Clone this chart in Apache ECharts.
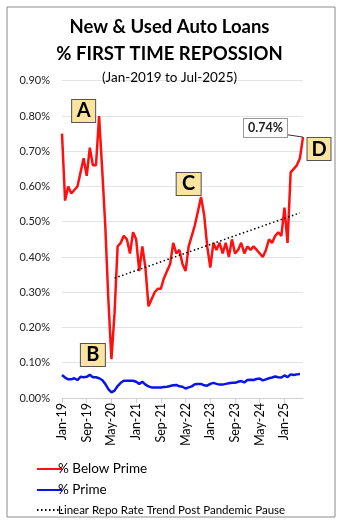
<!DOCTYPE html>
<html>
<head>
<meta charset="utf-8">
<script src="https://cdn.jsdelivr.net/npm/echarts@6/dist/echarts.min.js"></script>
<style>
html,body{margin:0;padding:0;background:#fff;}
#chart{width:339px;height:522px;}
</style>
</head>
<body>
<div id="chart"></div>
<script>
const months = ['Jan','Feb','Mar','Apr','May','Jun','Jul','Aug','Sep','Oct','Nov','Dec'];
const categories = [];
for (let y = 19; y <= 25; y++) {
  for (let m = 0; m < 12; m++) {
    if (y === 25 && m > 6) break;
    categories.push(months[m] + '-' + y);
  }
}
const belowPrime = [0.75,0.56,0.60,0.58,0.59,0.60,0.64,0.68,0.63,0.71,0.66,0.66,
  0.80,0.65,0.49,0.28,0.11,0.24,0.43,0.44,0.46,0.45,0.41,0.47,
  0.45,0.36,0.43,0.37,0.26,0.28,0.30,0.31,0.31,0.34,0.36,0.38,
  0.44,0.41,0.42,0.38,0.36,0.43,0.46,0.49,0.53,0.57,0.52,0.43,
  0.37,0.44,0.42,0.44,0.41,0.44,0.40,0.45,0.41,0.42,0.44,0.41,
  0.43,0.42,0.43,0.42,0.41,0.40,0.42,0.45,0.44,0.46,0.47,0.46,
  0.54,0.44,0.64,0.65,0.66,0.68,0.74];
const prime = [0.065,0.058,0.053,0.053,0.056,0.051,0.060,0.059,0.060,0.066,0.059,0.059,
  0.056,0.051,0.040,0.025,0.016,0.021,0.034,0.043,0.049,0.049,0.049,0.049,
  0.046,0.040,0.046,0.038,0.033,0.030,0.030,0.030,0.030,0.031,0.032,0.034,
  0.036,0.037,0.033,0.032,0.027,0.030,0.033,0.039,0.040,0.040,0.036,0.035,
  0.040,0.043,0.040,0.038,0.038,0.040,0.042,0.043,0.043,0.046,0.048,0.044,
  0.051,0.052,0.051,0.054,0.055,0.050,0.053,0.056,0.058,0.061,0.059,0.058,
  0.064,0.059,0.067,0.065,0.067,0.068,null];
// trend line: start and end points
const trendStart = {index: 17, value: 0.34};
const trendEnd = {index: 77, value: 0.525};
const yTicks = [0,0.1,0.2,0.3,0.4,0.5,0.6,0.7,0.8,0.9];

const trend = categories.map(() => null);
trend[trendStart.index] = trendStart.value;
trend[trendEnd.index] = trendEnd.value;

const FONT = 'Lato';
const boxStyle = {color:'#FBE3A0', borderColor:'#555', borderWidth:1};
const boxLabel = {show:true, position:'inside', formatter:'{b}', color:'#000', fontSize:20, fontWeight:'bold', fontFamily:FONT};

const chart = echarts.init(document.getElementById('chart'));
const last = belowPrime.length - 1;
chart.setOption({
  animation:false,
  textStyle:{fontFamily:FONT},
  title:{
    text:'New & Used Auto Loans\n% FIRST TIME REPOSSION',
    subtext:'(Jan-2019 to Jul-2025)',
    left:'center', top:9, itemGap:2,
    textStyle:{fontSize:18.5, fontWeight:'bold', color:'#000', lineHeight:27, fontFamily:FONT},
    subtextStyle:{fontSize:13.5, color:'#000', lineHeight:15, fontFamily:FONT}
  },
  graphic:[{type:'rect', shape:{x:7, y:7, width:328, height:510}, style:{fill:'none', stroke:'#8c8c8c', lineWidth:1}, silent:true}],
  legend:{
    orient:'vertical', left:31, top:457, itemGap:7, itemWidth:25, itemHeight:12,
    itemStyle:{opacity:0},
    data:[
      {name:'% Below Prime', textStyle:{fontSize:13.5}},
      {name:'% Prime', textStyle:{fontSize:13.5}},
      {name:'Linear Repo Rate Trend Post Pandemic Pause', textStyle:{fontSize:11.5}}
    ],
    textStyle:{color:'#000', fontFamily:FONT, padding:[0,0,0,-9]}
  },
  grid:{left:62, right:36, top:80.7, bottom:124},
  xAxis:{
    type:'category', data:categories, boundaryGap:false,
    axisLine:{lineStyle:{color:'#d0d0d0'}},
    axisTick:{show:true, interval:7, length:5, lineStyle:{color:'#d0d0d0'}},
    axisLabel:{interval:7, rotate:90, fontSize:12.5, color:'#000', fontFamily:FONT, margin:5}
  },
  yAxis:{
    type:'value', min:0, max:0.9, interval:0.1,
    axisLine:{show:false}, axisTick:{show:false},
    splitLine:{lineStyle:{color:'#e3e3e3'}},
    axisLabel:{formatter:v => v.toFixed(2) + '%', fontSize:11, color:'#222', fontFamily:FONT, margin:12}
  },
  series:[
    {
      name:'% Below Prime', type:'line',
      data:belowPrime.map((v,i)=> i===last ? {
        value:v,
        label:{show:true, position:'left', distance:14, formatter:p=>p.value.toFixed(2)+'%',
          fontSize:12.5, fontWeight:'bold', color:'#222', backgroundColor:'#fff', borderColor:'#999', borderWidth:1, padding:[3,4,2,4]}
      } : v),
      symbol:'circle', symbolSize:0, showSymbol:true, showAllSymbol:true,
      label:{show:false},
      lineStyle:{color:'#FF1010', width:2.5}, itemStyle:{color:'#FF1010'},
      labelLayout:{dy:-9, dx:-2},
      labelLine:{show:true, length2:0, lineStyle:{color:'#333', width:1}},
      markPoint:{
        symbol:'rect', symbolSize:[24,23], itemStyle:boxStyle, label:boxLabel,
        data:[
          {name:'A', coord:[7, 0.814]},
          {name:'B', coord:[10, 0.122], symbolSize:[25,23]},
          {name:'C', coord:[41, 0.607], symbolSize:[25,23]},
          {name:'D', coord:[78, 0.706], symbolOffset:[16,0]}
        ]
      },
      z:3
    },
    {
      name:'% Prime', type:'line', data:prime, symbol:'none',
      lineStyle:{color:'#0A14E6', width:2.5}, itemStyle:{color:'#0A14E6'}, z:3
    },
    {
      name:'Linear Repo Rate Trend Post Pandemic Pause', type:'line', data:trend, connectNulls:true,
      symbol:'none', lineStyle:{color:'#000', width:1.5, type:[1.5,2.5]}, itemStyle:{color:'#000'}, z:4
    }
  ]
});
</script>
</body>
</html>
